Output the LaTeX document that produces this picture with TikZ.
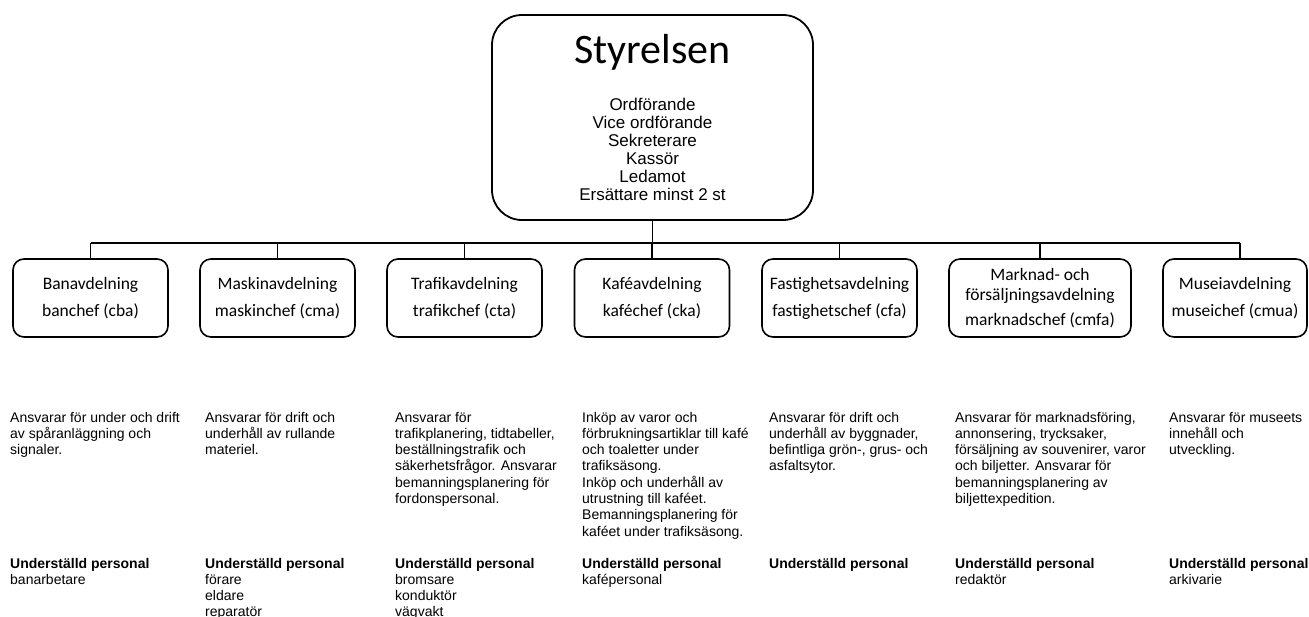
\documentclass[tikz,border=0pt]{standalone}
\usepackage{fontspec}
\setmainfont{Liberation Sans}
\newfontfamily\calibri{Carlito}
\newcommand\colt[1]{\begin{tabular}[t]{@{}l@{}}#1\end{tabular}}
\begin{document}
\begin{tikzpicture}[x=1pt,y=-1pt,
  dept/.style={draw, line width=1.6pt, rounded corners=11pt, minimum height=78pt,
    inner sep=0pt, align=center, font=\calibri\fontsize{17.5}{27}\selectfont},
  desc/.style={anchor=base west, inner sep=0pt, font=\fontsize{14}{16.3}\selectfont},
  conn/.style={line width=1.6pt}]
\useasboundingbox (0,0) rectangle (1309,616);
\fill[white] (0,0) rectangle (1309,616);

% Board
\node[draw, line width=1.8pt, rounded corners=30pt, minimum width=321pt,
  minimum height=205pt, inner sep=0pt] (sty) at (652.5,117.5) {};
\node[inner sep=0pt, font=\calibri\fontsize{42}{42}\selectfont] (stytitle) at (652.5,52) {Styrelsen};
\node[inner sep=0pt, align=center, font=\fontsize{17}{18}\selectfont] (styroles) at (652.5,149)
  {Ordförande\\Vice ordförande\\Sekreterare\\Kassör\\Ledamot\\Ersättare minst 2 st};

% Departments
\node[dept, minimum width=155pt] (ban) at (90.5,298) {Banavdelning\\banchef (cba)};
\node[dept, minimum width=155pt] (mas) at (277.5,298) {Maskinavdelning\\maskinchef (cma)};
\node[dept, minimum width=155pt] (tra) at (464.5,298) {Trafikavdelning\\trafikchef (cta)};
\node[dept, minimum width=155pt] (kaf) at (652,298) {Kaféavdelning\\kaféchef (cka)};
\node[dept, minimum width=155pt] (fas) at (839.5,298) {Fastighetsavdelning\\fastighetschef (cfa)};
\node[dept, minimum width=182pt, font=\calibri\fontsize{17.5}{20}\selectfont] (mar) at (1040,298)
  {Marknad- och\\försäljningsavdelning\\[5pt]marknadschef (cmfa)};
\node[dept, minimum width=144pt] (mus) at (1235,298) {Museiavdelning\\museichef (cmua)};

% Connectors
\coordinate (bus) at (0,243);
\coordinate (musc) at (1240,243);
\draw[conn] (sty.south) -- (sty.south |- bus);
\draw[conn] (ban.north |- bus) -- (musc);
\foreach \n in {ban,mas,tra,kaf,fas,mar}
  \draw[conn] (\n.north) -- (\n.north |- bus);
\draw[conn] (mus.north -| musc) -- (musc);

% Descriptions
\node[desc] (d1) at (10,422) {\colt{Ansvarar för under och drift\\av spåranläggning och\\signaler.}};
\node[desc] (d2) at (205,422) {\colt{Ansvarar för drift och\\underhåll av rullande\\materiel.}};
\node[desc] (d3) at (395,422) {\colt{Ansvarar för\\trafikplanering, tidtabeller,\\beställningstrafik och\\säkerhetsfrågor. Ansvarar\\bemanningsplanering för\\fordonspersonal.}};
\node[desc] (d4) at (582,422) {\colt{Inköp av varor och\\förbrukningsartiklar till kafé\\och toaletter under\\trafiksäsong.\\Inköp och underhåll av\\utrustning till kaféet.\\Bemanningsplanering för\\kaféet under trafiksäsong.}};
\node[desc] (d5) at (769,422) {\colt{Ansvarar för drift och\\underhåll av byggnader,\\befintliga grön-, grus- och\\asfaltsytor.}};
\node[desc] (d6) at (955,422) {\colt{Ansvarar för marknadsföring,\\annonsering, trycksaker,\\försäljning av souvenirer, varor\\och biljetter. Ansvarar för\\bemanningsplanering av\\biljettexpedition.}};
\node[desc] (d7) at (1169,422) {\colt{Ansvarar för museets\\innehåll och\\utveckling.}};

% Staff
\node[desc] (p1) at (10,568) {\colt{\textbf{Underställd personal}\\banarbetare}};
\node[desc] (p2) at (205,568) {\colt{\textbf{Underställd personal}\\förare\\eldare\\reparatör}};
\node[desc] (p3) at (395,568) {\colt{\textbf{Underställd personal}\\bromsare\\konduktör\\vägvakt}};
\node[desc] (p4) at (582,568) {\colt{\textbf{Underställd personal}\\kafépersonal}};
\node[desc] (p5) at (769,568) {\colt{\textbf{Underställd personal}}};
\node[desc] (p6) at (955,568) {\colt{\textbf{Underställd personal}\\redaktör}};
\node[desc] (p7) at (1169,568) {\colt{\textbf{Underställd personal}\\arkivarie}};
\end{tikzpicture}
\end{document}
